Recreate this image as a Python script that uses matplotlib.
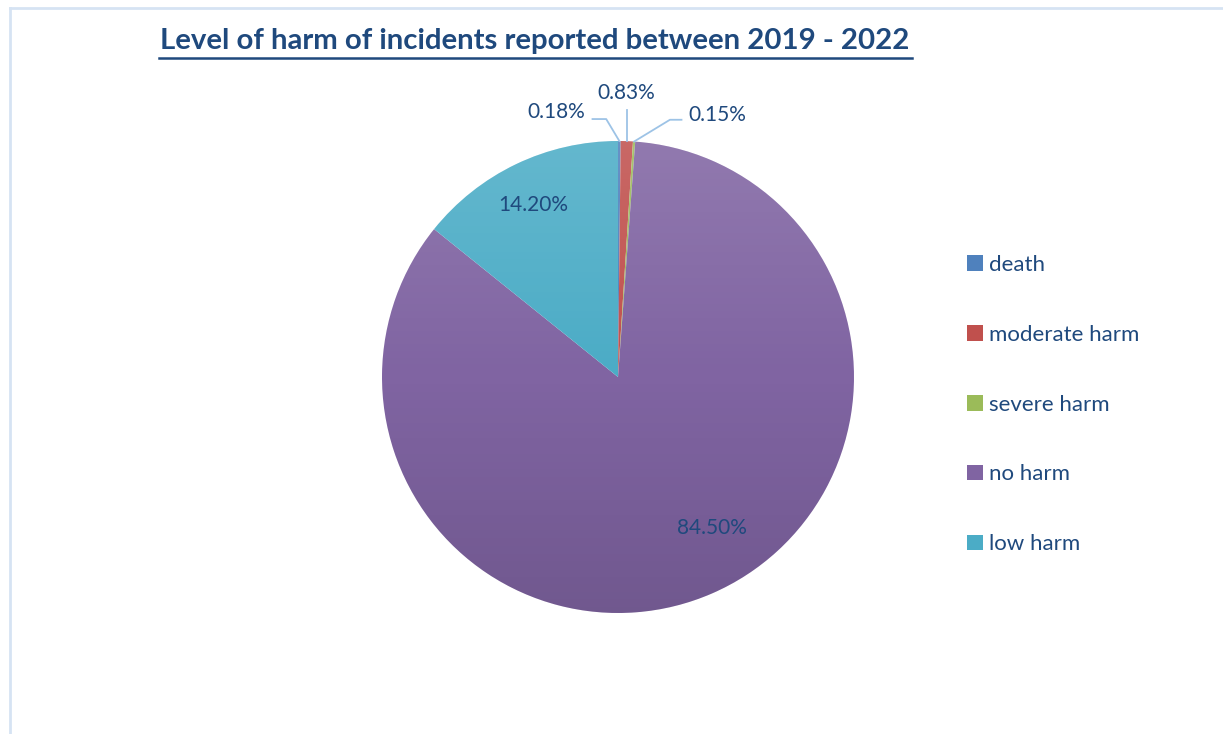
import numpy as np
import matplotlib.pyplot as plt
from matplotlib.patches import Circle

# harm levels and their share of incidents (%)
labels = ["death", "moderate harm", "severe harm", "no harm", "low harm"]
shares = [0.18, 0.83, 0.15, 84.50, 14.20]
pct_text = ["0.18%", "0.83%", "0.15%", "84.50%", "14.20%"]
colors = ["#4F81BD", "#C0504D", "#9BBB59", "#8064A2", "#4BACC6"]

text_col = "#1F497D"
line_col = "#9DC3E6"
plt.rcParams['font.family'] = ['Lato', 'DejaVu Sans']

fig = plt.figure(figsize=(12.23, 7.34), dpi=100)

# light frame around the chart area
fig.add_artist(plt.Line2D([9.5 / 1223, 9.5 / 1223], [0, 1 - 8 / 734], color="#D6E3F3", lw=2))
fig.add_artist(plt.Line2D([9.5 / 1223, 1], [1 - 8 / 734, 1 - 8 / 734], color="#D6E3F3", lw=2))

ax = fig.add_axes([382 / 1223, 121 / 734, 472 / 1223, 472 / 734])
wedges, _ = ax.pie(shares, colors=colors, startangle=90, counterclock=False,
                   radius=1, wedgeprops=dict(linewidth=0))
ax.set_aspect("equal")
ax.axis("off")

# soft vertical shading like the office gradient fill
t = np.linspace(0, 1, 200)
grad = np.zeros((200, 2, 4))
grad[:, :, :3] = np.where(t < 0.5, 1.0, 0.0)[:, None, None]
grad[:, :, 3] = np.where(t < 0.5, 0.14 * (1 - 2 * t), 0.12 * (2 * t - 1))[:, None]
img = ax.imshow(grad, extent=(-1, 1, -1, 1), origin="upper", zorder=3, aspect="auto")
img.set_clip_path(Circle((0, 0), 1, transform=ax.transData))
ax.set_xlim(-1, 1)
ax.set_ylim(-1, 1)

# label positions for each slice
label_pos = [(-0.263, 1.123), (0.034, 1.203), (0.419, 1.110), (0.398, -0.640), (-0.360, 0.729)]
for w, txt, pos in zip(wedges, pct_text, label_pos):
    mid = np.deg2rad((w.theta1 + w.theta2) / 2)
    edge = (np.cos(mid), np.sin(mid))
    ax.text(pos[0], pos[1], txt, ha="center", va="center", fontsize=15,
            color=text_col, zorder=5, clip_on=False)
    if pos[1] > 1:
        if pos[0] < -0.1:
            pts = [(pos[0] + 0.155, pos[1] - 0.03), (-0.05, pos[1] - 0.03), edge]
        elif pos[0] > 0.1:
            pts = [(pos[0] - 0.15, pos[1] - 0.02), (0.22, pos[1] - 0.02), edge]
        else:
            pts = [(edge[0], pos[1] - 0.07), edge]
        xs, ys = zip(*pts)
        ax.plot(xs, ys, color=line_col, lw=1.3, clip_on=False, zorder=4)

fig.text(535 / 1223, 1 - 41 / 734, "Level of harm of incidents reported between 2019 - 2022",
         ha="center", va="center", fontsize=21.2, fontweight="bold", color=text_col)
fig.add_artist(plt.Line2D([159 / 1223, 912 / 1223], [1 - 58 / 734, 1 - 58 / 734],
                          color=text_col, lw=1.8))

leg = fig.legend(wedges, labels, loc="upper left", bbox_to_anchor=(947 / 1223, 1 - 235 / 734),
                 frameon=False, fontsize=16, labelcolor=text_col, handlelength=0.7,
                 handleheight=0.7, handletextpad=0.28, labelspacing=2.24)

fig.savefig("out.png", dpi=100, facecolor="white")
